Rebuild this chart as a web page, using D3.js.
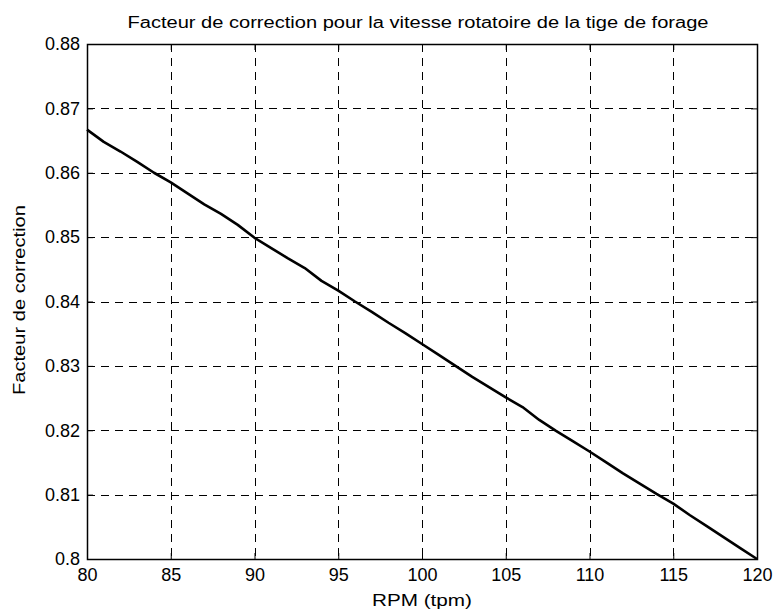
<!DOCTYPE html>
<html>
<head>
<meta charset="utf-8">
<script src="https://cdn.jsdelivr.net/npm/d3@7"></script>
<style>
  body { margin: 0; background: #fff; }
  text { font-family: "Liberation Sans", Arial, sans-serif; fill: #000; }
</style>
</head>
<body>
<div id="chart"></div>
<script>
var svgWidth = 778;
var svgHeight = 612;

var margin = { top: 44, right: 21, bottom: 53, left: 87 };
var width = svgWidth - margin.left - margin.right;
var height = svgHeight - margin.top - margin.bottom;

// data
var rpm = [80, 81, 82, 83, 84, 85, 86, 87, 88, 89, 90, 91, 92, 93, 94, 95, 96, 97, 98, 99, 100,
  101, 102, 103, 104, 105, 106, 107, 108, 109, 110, 111, 112, 113, 114, 115, 116, 117, 118, 119, 120];
var facteur = [0.8667, 0.8648, 0.8633, 0.8617, 0.8600, 0.8585, 0.8568, 0.8551, 0.8536, 0.8519, 0.8499,
  0.8483, 0.8467, 0.8452, 0.8432, 0.8417, 0.8400, 0.8384, 0.8367, 0.8351, 0.8334,
  0.8317, 0.8300, 0.8283, 0.8267, 0.8251, 0.8236, 0.8216, 0.8199, 0.8183, 0.8167,
  0.8150, 0.8133, 0.8117, 0.8101, 0.8086, 0.8068, 0.8051, 0.8034, 0.8017, 0.8000];
var xTicks = [80, 85, 90, 95, 100, 105, 110, 115, 120];
var yTicks = [0.8, 0.81, 0.82, 0.83, 0.84, 0.85, 0.86, 0.87, 0.88];

var data = rpm.map((r, i) => ({ rpm: r, f: facteur[i] }));

var svg = d3.select("#chart")
  .append("svg")
  .attr("width", svgWidth)
  .attr("height", svgHeight);

var chartGroup = svg.append("g")
  .attr("transform", `translate(${margin.left}, ${margin.top})`);

var xScale = d3.scaleLinear().domain([80, 120]).range([0, width]);
var yScale = d3.scaleLinear().domain([0.8, 0.88]).range([height, 0]);

// grid
var grid = chartGroup.append("g")
  .attr("stroke", "#000")
  .attr("stroke-width", 1)
  .attr("stroke-dasharray", "8,6")
  .attr("shape-rendering", "crispEdges");

grid.selectAll(".vg")
  .data(xTicks.slice(1, -1))
  .enter()
  .append("line")
  .attr("x1", d => Math.round(xScale(d)) + 0.5)
  .attr("x2", d => Math.round(xScale(d)) + 0.5)
  .attr("y1", 0)
  .attr("y2", height);

grid.selectAll(".hg")
  .data(yTicks.slice(1, -1))
  .enter()
  .append("line")
  .attr("y1", d => Math.round(yScale(d)) + 0.5)
  .attr("y2", d => Math.round(yScale(d)) + 0.5)
  .attr("x1", 0)
  .attr("x2", width);

// axes (ticks inward, all four sides)
var fmtY = d => d3.format(".2f")(d).replace(/0$/, "").replace(/\.$/, "");

chartGroup.append("g")
  .attr("transform", `translate(0, ${height})`)
  .call(d3.axisBottom(xScale).tickValues(xTicks).tickSize(-6).tickPadding(9).tickSizeOuter(0));
chartGroup.append("g")
  .call(d3.axisLeft(yScale).tickValues(yTicks).tickSize(-6).tickPadding(7).tickFormat(fmtY).tickSizeOuter(0));
chartGroup.append("g")
  .call(d3.axisTop(xScale).tickValues(xTicks).tickSize(-6).tickFormat("").tickSizeOuter(0));
chartGroup.append("g")
  .attr("transform", `translate(${width}, 0)`)
  .call(d3.axisRight(yScale).tickValues(yTicks).tickSize(-6).tickFormat("").tickSizeOuter(0));

chartGroup.selectAll(".domain").remove();
chartGroup.selectAll(".tick line").attr("stroke", "#000");
chartGroup.selectAll(".tick text")
  .style("font-family", "'Liberation Sans', Arial, sans-serif")
  .style("font-size", "18px");

chartGroup.append("rect")
  .attr("x", 0.5)
  .attr("y", 0.5)
  .attr("width", width)
  .attr("height", height)
  .attr("fill", "none")
  .attr("stroke", "#000")
  .attr("stroke-width", 1.5);

// the curve
var line = d3.line()
  .x(d => xScale(d.rpm))
  .y(d => yScale(d.f));

chartGroup.append("path")
  .datum(data)
  .attr("d", line)
  .attr("fill", "none")
  .attr("stroke", "#000")
  .attr("stroke-width", 2.6)
  .attr("stroke-linejoin", "round");

// titles (the reference glyphs are drawn wider than the font, so stretch them)
svg.append("text")
  .attr("x", 418)
  .attr("y", 28)
  .attr("text-anchor", "middle")
  .attr("textLength", 581)
  .attr("lengthAdjust", "spacingAndGlyphs")
  .style("font-size", "16px")
  .text("Facteur de correction pour la vitesse rotatoire de la tige de forage");

svg.append("text")
  .attr("x", margin.left + width / 2)
  .attr("y", 606)
  .attr("text-anchor", "middle")
  .attr("textLength", 100)
  .attr("lengthAdjust", "spacingAndGlyphs")
  .style("font-size", "16px")
  .text("RPM (tpm)");

svg.append("text")
  .attr("transform", "rotate(-90)")
  .attr("x", -300)
  .attr("y", 25)
  .attr("text-anchor", "middle")
  .attr("textLength", 190)
  .attr("lengthAdjust", "spacingAndGlyphs")
  .style("font-size", "16px")
  .text("Facteur de correction");
</script>
</body>
</html>
